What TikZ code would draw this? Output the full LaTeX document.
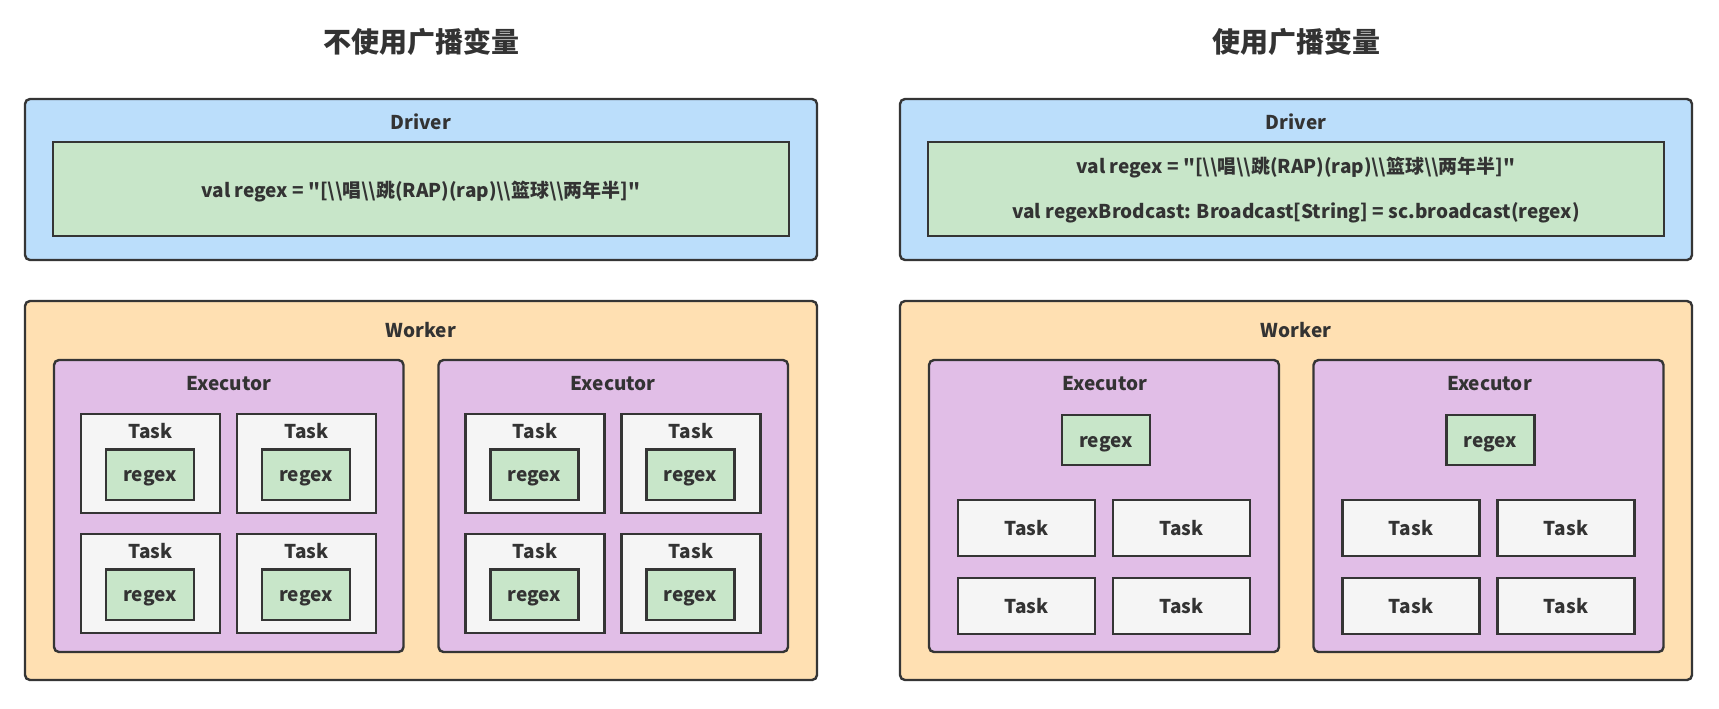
\documentclass[tikz,border=0pt]{standalone}
\usepackage{fontspec}
\newfontfamily\yh{Noto Sans CJK SC}
\usetikzlibrary{fit}
\definecolor{bd}{HTML}{353535}
\definecolor{txt}{HTML}{333333}
\definecolor{cblue}{HTML}{BBDEFB}
\definecolor{cgreen}{HTML}{C8E6C9}
\definecolor{corange}{HTML}{FFE0B2}
\definecolor{cpurple}{HTML}{E1BEE7}
\definecolor{cgray}{HTML}{F5F5F5}
\tikzset{
  frame/.style={draw=bd, line width=1.2pt, inner sep=0pt},
  roundframe/.style={frame, rounded corners=2.5pt},
  drv/.style={roundframe, fill=cblue},
  wrk/.style={roundframe, fill=corange},
  exe/.style={roundframe, fill=cpurple},
  tsk/.style={frame, fill=cgray},
  rgx/.style={frame, fill=cgreen},
  lbl/.style={text=txt, font=\yh\bfseries\fontsize{9.5pt}{11pt}\selectfont, inner sep=0pt},
  ttl/.style={text=txt, font=\yh\bfseries\fontsize{14pt}{16pt}\selectfont, inner sep=0pt},
}
\newcommand{\bs}{\textbackslash}
\begin{document}
\begin{tikzpicture}[x=0.5pt,y=-0.5pt]
\useasboundingbox[fill=white] (0,0) rectangle (1719,708);

% ---------------- Left panel ----------------
\node[ttl] (titleL) at (421,42) {不使用广播变量};
\node[drv, fit={(25,99) (817,260)}] (drvL) {};
\node[lbl] (drvLt) at (421,122) {Driver};
\node[rgx, fit={(53,142) (789,236)}] (codeL) {};
\node[lbl] (codeLt) at (421,192) {val regex = "[\bs\bs 唱\bs\bs 跳(RAP)(rap)\bs\bs 篮球\bs\bs 两年半]"};

\node[wrk, fit={(25,301) (817,680)}] (wrkL) {};
\node[lbl] (wrkLt) at (421,330) {Worker};

\foreach \e/\ex in {1/54, 2/438.5} {
  \node[exe, fit={(\ex,360) (\ex+349.5,652)}] (exL\e) {};
  \node[lbl] (exL\e t) at (\ex+174.75,384) {Executor};
  \foreach \c/\cx in {1/27, 2/183} {
    \foreach \r/\ry in {1/414, 2/534} {
      \node[tsk, fit={(\ex+\cx,\ry) (\ex+\cx+139,\ry+99)}] (tL\e\c\r) {};
      \node[lbl] (tL\e\c\r t) at (\ex+\cx+69.5,\ry+17) {Task};
      \node[rgx, fit={(\ex+\cx+25,\ry+35.5) (\ex+\cx+113,\ry+86)}] (rL\e\c\r) {};
      \node[lbl] (rL\e\c\r t) at (\ex+\cx+69,\ry+64.5) {regex};
    }
  }
}

% ---------------- Right panel ----------------
\node[ttl] (titleR) at (1296,42) {使用广播变量};
\node[drv, fit={(900,99) (1692,260)}] (drvR) {};
\node[lbl] (drvRt) at (1296,122) {Driver};
\node[rgx, fit={(928,142) (1664,236)}] (codeR) {};
\node[lbl] (codeR1) at (1296,168) {val regex = "[\bs\bs 唱\bs\bs 跳(RAP)(rap)\bs\bs 篮球\bs\bs 两年半]"};
\node[lbl] (codeR2) at (1296,213) {val regexBrodcast: Broadcast[String] = sc.broadcast(regex)};

\node[wrk, fit={(900,301) (1692,680)}] (wrkR) {};
\node[lbl] (wrkRt) at (1296,330) {Worker};

\foreach \e/\ex in {1/929, 2/1313.5} {
  \node[exe, fit={(\ex,360) (\ex+350,652)}] (exR\e) {};
  \node[lbl] (exR\e t) at (\ex+176,384) {Executor};
  \node[rgx, fit={(\ex+133,415) (\ex+221,465)}] (rR\e) {};
  \node[lbl] (rR\e t) at (\ex+177,444.5) {regex};
  \foreach \c/\cx in {1/29, 2/184} {
    \foreach \r/\ry in {1/500, 2/578} {
      \node[tsk, fit={(\ex+\cx,\ry) (\ex+\cx+137,\ry+56)}] (tR\e\c\r) {};
      \node[lbl] (tR\e\c\r t) at (\ex+\cx+68.5,\ry+28.5) {Task};
    }
  }
}
\end{tikzpicture}
\end{document}
